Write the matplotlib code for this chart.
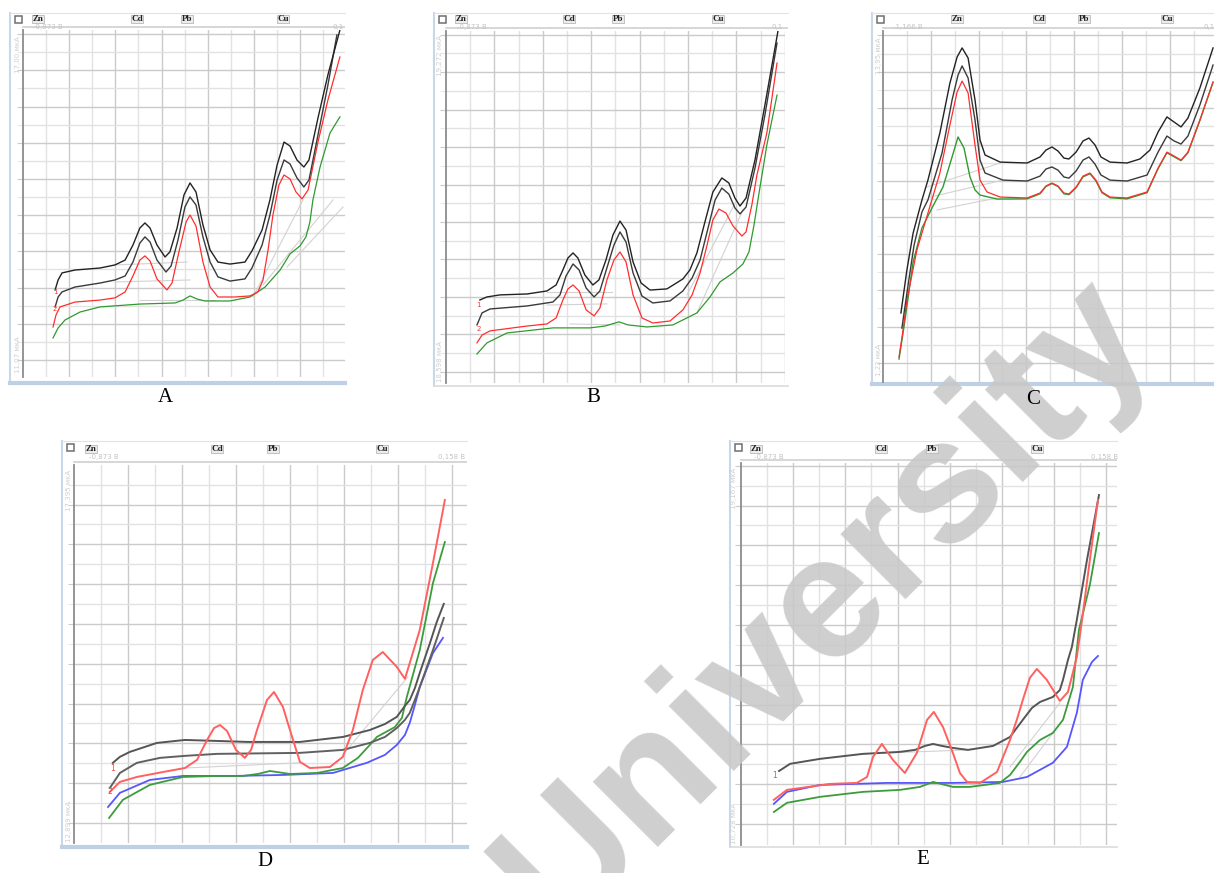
import matplotlib.pyplot as plt
from matplotlib.patches import Rectangle

# all curves in grid divisions
# (x: potential divisions from the left axis, y: current divisions)

# ---------- A ----------
a_k1_x = [1.39, 1.52, 1.69, 2.25, 3.33, 3.98, 4.42, 4.76, 5.06, 5.28, 5.50, 5.80, 6.15, 6.36, 6.67, 6.97, 7.23, 7.49,
          7.79, 8.10, 8.44, 8.96, 9.61, 9.91, 10.35, 10.69, 11.00, 11.30, 11.56, 11.86, 12.16, 12.38, 12.77, 13.20, 13.72]
a_k1_y = [3.87, 4.42, 4.81, 4.97, 5.08, 5.25, 5.52, 6.35, 7.29, 7.57, 7.29, 6.35, 5.69, 5.97, 7.29, 9.12, 9.78, 9.28,
          7.46, 6.08, 5.41, 5.30, 5.41, 6.02, 7.18, 8.84, 10.77, 12.04, 11.82, 11.05, 10.66, 11.05, 13.37, 15.75, 18.23]
a_k2_x = [1.39, 1.52, 1.69, 2.25, 3.33, 3.98, 4.42, 4.76, 5.06, 5.28, 5.50, 5.80, 6.19, 6.41, 6.71, 7.01, 7.23, 7.49,
          7.79, 8.10, 8.44, 8.96, 9.61, 9.91, 10.35, 10.69, 11.00, 11.30, 11.56, 11.86, 12.16, 12.38, 12.77, 13.20, 13.59]
a_k2_y = [2.93, 3.48, 3.76, 4.03, 4.25, 4.42, 4.64, 5.41, 6.46, 6.80, 6.52, 5.52, 4.86, 5.19, 6.63, 8.45, 9.01, 8.56,
          6.80, 5.41, 4.59, 4.36, 4.48, 5.08, 6.35, 8.01, 9.94, 11.05, 10.83, 10.06, 9.56, 9.94, 12.43, 15.19, 17.96]
a_r_x = [1.30, 1.43, 1.60, 2.25, 3.33, 3.98, 4.42, 4.76, 5.06, 5.28, 5.50, 5.80, 6.23, 6.45, 6.75, 7.06, 7.23, 7.49,
         7.79, 8.10, 8.44, 9.18, 9.83, 10.17, 10.39, 10.61, 10.82, 11.08, 11.30, 11.56, 11.82, 12.08, 12.34, 12.77,
         13.20, 13.72]
a_r_y = [1.82, 2.49, 2.93, 3.20, 3.31, 3.43, 3.76, 4.64, 5.52, 5.75, 5.47, 4.48, 3.87, 4.25, 5.97, 7.62, 8.01, 7.40,
         5.41, 4.03, 3.48, 3.48, 3.54, 3.76, 4.42, 6.08, 8.01, 9.67, 10.22, 10.00, 9.28, 8.90, 9.39, 12.04, 14.36, 16.74]
a_g_x = [1.30, 1.52, 1.82, 2.47, 3.33, 5.06, 6.58, 6.93, 7.23, 7.53, 7.88, 8.96, 9.83, 10.48, 11.13, 11.56, 11.99,
         12.25, 12.42, 12.55, 12.86, 13.29, 13.72]
a_g_y = [1.22, 1.77, 2.21, 2.65, 2.93, 3.09, 3.15, 3.31, 3.54, 3.37, 3.26, 3.26, 3.48, 4.03, 4.97, 5.86, 6.30, 6.80,
         7.62, 8.84, 10.66, 12.54, 13.43]
a_base_x = [[3.98, 7.10], [3.98, 7.23], [5.06, 8.31], [9.96, 12.12], [10.39, 13.42], [11.43, 13.85]]
a_base_y = [[5.25, 5.41], [4.31, 4.42], [3.31, 3.31], [3.48, 8.84], [4.14, 8.84], [5.14, 8.45]]

# ---------- B ----------
b_k1_x = [1.40, 1.69, 2.23, 3.35, 4.17, 4.55, 4.83, 5.04, 5.25, 5.45, 5.74, 6.07, 6.32, 6.61, 6.90, 7.19, 7.44, 7.73,
          8.06, 8.43, 9.13, 9.79, 10.08, 10.37, 10.70, 11.03, 11.40, 11.69, 11.94, 12.15, 12.40, 12.77, 13.18, 13.72]
b_k1_y = [3.84, 4.00, 4.11, 4.16, 4.32, 4.64, 5.44, 6.08, 6.35, 6.08, 5.17, 4.64, 4.91, 5.97, 7.31, 8.05, 7.57, 5.87,
          4.75, 4.37, 4.43, 4.96, 5.44, 6.35, 8.00, 9.60, 10.35, 10.08, 9.28, 8.85, 9.28, 11.31, 14.24, 18.19]
b_k2_x = [1.28, 1.49, 1.82, 3.35, 4.42, 4.71, 4.96, 5.25, 5.50, 5.79, 6.12, 6.36, 6.65, 6.94, 7.19, 7.44, 7.73, 8.10,
          8.55, 9.26, 9.79, 10.17, 10.50, 10.83, 11.12, 11.40, 11.69, 11.94, 12.15, 12.40, 12.77, 13.18, 13.68]
b_k2_y = [2.51, 3.15, 3.36, 3.52, 3.73, 4.11, 5.12, 5.76, 5.44, 4.48, 4.00, 4.32, 5.55, 6.77, 7.47, 6.93, 5.28, 4.05,
          3.68, 3.79, 4.32, 5.01, 5.97, 7.68, 9.17, 9.81, 9.49, 8.75, 8.43, 8.80, 10.88, 13.71, 17.55]
b_r_x = [1.28, 1.49, 1.82, 3.35, 4.17, 4.55, 4.83, 5.04, 5.25, 5.50, 5.79, 6.12, 6.36, 6.65, 6.94, 7.19, 7.44, 7.73,
         8.10, 8.55, 9.26, 9.79, 10.17, 10.50, 10.79, 11.03, 11.28, 11.57, 11.86, 12.23, 12.40, 12.64, 12.85, 13.26,
         13.68]
b_r_y = [1.55, 1.97, 2.19, 2.45, 2.56, 2.88, 3.84, 4.43, 4.64, 4.32, 3.31, 2.99, 3.41, 4.91, 5.97, 6.40, 5.87, 4.11,
         2.88, 2.61, 2.72, 3.31, 4.11, 5.28, 6.77, 8.11, 8.69, 8.48, 7.79, 7.25, 7.47, 8.91, 10.51, 12.75, 16.48]
b_g_x = [1.28, 1.69, 2.52, 4.42, 5.95, 6.57, 6.86, 7.15, 7.52, 8.31, 9.38, 10.37, 10.91, 11.32, 11.86, 12.27, 12.52,
         12.73, 12.89, 13.26, 13.68]
b_g_y = [0.96, 1.55, 2.08, 2.35, 2.35, 2.45, 2.56, 2.67, 2.51, 2.40, 2.51, 3.15, 4.00, 4.80, 5.28, 5.76, 6.40, 7.84,
         9.17, 12.11, 14.77]
b_base_x = [[4.17, 6.86], [4.17, 6.65], [5.12, 7.19], [9.96, 12.02], [10.37, 12.27]]
b_base_y = [[4.27, 4.27], [3.57, 3.63], [2.56, 2.51], [4.11, 9.17], [3.15, 8.64]]

# ---------- C ----------
c_k1_x = [0.75, 1.00, 1.26, 1.63, 1.88, 2.38, 2.80, 3.10, 3.31, 3.56, 3.85, 4.06, 4.27, 4.90, 6.03, 6.57, 6.82, 7.07,
          7.32, 7.57, 7.78, 8.08, 8.37, 8.62, 8.87, 9.12, 9.50, 10.21, 10.75, 11.17, 11.51, 11.88, 12.18, 12.47, 12.76,
          13.26, 13.81]
c_k1_y = [2.75, 5.11, 7.14, 8.96, 10.05, 12.64, 15.38, 16.81, 17.31, 16.76, 14.45, 12.25, 11.43, 11.04, 10.99, 11.32,
          11.70, 11.87, 11.65, 11.26, 11.21, 11.59, 12.20, 12.36, 11.98, 11.32, 11.04, 10.99, 11.21, 11.70, 12.69, 13.52,
          13.24, 12.97, 13.46, 15.11, 17.31]
c_k2_x = [0.79, 1.05, 1.30, 1.63, 1.88, 2.47, 2.89, 3.14, 3.31, 3.56, 3.85, 4.06, 4.27, 5.02, 6.03, 6.57, 6.82, 7.07,
          7.32, 7.57, 7.78, 8.08, 8.37, 8.62, 8.87, 9.12, 9.50, 10.21, 11.05, 11.51, 11.88, 12.18, 12.47, 12.76, 13.26,
          13.81]
c_k2_y = [1.92, 4.29, 6.48, 8.30, 8.96, 11.54, 14.45, 15.82, 16.32, 15.66, 13.35, 11.15, 10.44, 10.05, 10.00, 10.27,
          10.66, 10.77, 10.60, 10.22, 10.16, 10.55, 11.15, 11.32, 10.93, 10.33, 10.05, 10.00, 10.33, 11.59, 12.47, 12.20,
          12.03, 12.47, 14.18, 16.37]
c_r_x = [0.67, 0.84, 1.00, 1.42, 1.88, 2.38, 2.80, 3.10, 3.31, 3.56, 3.85, 4.06, 4.35, 4.90, 6.03, 6.57, 6.82, 7.07,
         7.32, 7.57, 7.78, 8.08, 8.37, 8.66, 8.91, 9.16, 9.50, 10.21, 11.05, 11.51, 11.88, 12.18, 12.47, 12.76, 13.26,
         13.81]
c_r_y = [0.33, 1.81, 3.46, 6.21, 8.24, 10.44, 13.08, 14.89, 15.49, 14.84, 11.98, 10.05, 9.40, 9.12, 9.07, 9.34, 9.73,
         9.89, 9.73, 9.34, 9.29, 9.67, 10.27, 10.44, 10.05, 9.40, 9.12, 9.07, 9.40, 10.71, 11.59, 11.37, 11.15, 11.59,
         13.35, 15.44]
c_g_x = [0.67, 0.92, 1.26, 1.63, 2.05, 2.51, 2.89, 3.14, 3.39, 3.64, 3.85, 4.06, 4.77, 6.03, 6.57, 6.82, 7.07, 7.32,
         7.57, 7.78, 8.08, 8.37, 8.66, 8.91, 9.16, 9.50, 10.21, 11.05, 11.51, 11.88, 12.18, 12.47, 12.76, 13.26, 13.81]
c_g_y = [0.22, 2.36, 5.55, 7.42, 8.52, 9.67, 11.32, 12.42, 11.81, 10.22, 9.51, 9.23, 9.01, 9.02, 9.30, 9.70, 9.86,
         9.70, 9.30, 9.25, 9.63, 10.23, 10.40, 10.00, 9.36, 9.08, 9.02, 9.36, 10.68, 11.55, 11.33, 11.12, 11.55, 13.33,
         15.42]
c_base_x = [[1.84, 5.02], [1.97, 5.02], [2.26, 4.77]]
c_base_y = [[9.67, 11.04], [9.12, 10.05], [8.41, 9.07]]

# ---------- D ----------
d_k1_x = [1.44, 1.70, 2.07, 3.07, 4.11, 5.30, 6.44, 8.37, 9.96, 10.96, 11.52, 11.96, 12.26, 12.44, 12.63, 12.81,
          13.19, 13.44, 13.70]
d_k1_y = [3.02, 3.32, 3.57, 4.02, 4.17, 4.12, 4.07, 4.07, 4.32, 4.67, 4.97, 5.33, 5.88, 6.18, 6.78, 7.54, 9.05,
          10.10, 11.01]
d_k2_x = [1.33, 1.70, 2.33, 3.19, 4.11, 5.30, 8.37, 9.96, 10.96, 11.52, 11.96, 12.26, 12.44, 12.63, 12.81, 13.30, 13.70]
d_k2_y = [1.76, 2.51, 3.02, 3.27, 3.37, 3.47, 3.52, 3.67, 4.02, 4.32, 4.77, 5.18, 5.53, 6.18, 6.83, 8.69, 10.30]
d_r_x = [1.33, 1.70, 2.33, 3.30, 4.11, 4.56, 4.93, 5.19, 5.41, 5.67, 6.00, 6.33, 6.56, 6.78, 7.15, 7.41, 7.74, 8.00,
         8.37, 8.74, 9.48, 9.96, 10.33, 10.70, 11.07, 11.44, 11.96, 12.26, 12.44, 12.81, 13.30, 13.74]
d_r_y = [1.56, 2.06, 2.31, 2.56, 2.76, 3.17, 4.17, 4.77, 4.92, 4.62, 3.67, 3.27, 3.67, 4.67, 6.18, 6.58, 5.83, 4.67,
         3.07, 2.76, 2.81, 3.32, 4.67, 6.68, 8.19, 8.59, 7.84, 7.24, 8.04, 9.70, 13.07, 16.23]
d_g_x = [1.30, 1.81, 2.81, 4.04, 5.30, 6.26, 6.81, 7.26, 8.00, 9.00, 9.96, 10.52, 10.96, 11.22, 11.89, 12.15, 12.33,
         12.81, 13.30, 13.74]
d_g_y = [0.25, 1.16, 1.91, 2.31, 2.36, 2.36, 2.46, 2.61, 2.46, 2.51, 2.76, 3.27, 3.92, 4.32, 4.82, 5.28, 6.33, 8.69,
         12.06, 14.12]
d_b_x = [1.26, 1.70, 2.81, 4.04, 5.89, 7.74, 9.59, 10.85, 11.52, 11.96, 12.26, 12.44, 12.63, 12.81, 13.30, 13.67]
d_b_y = [0.80, 1.51, 2.16, 2.36, 2.36, 2.41, 2.51, 3.02, 3.42, 3.92, 4.42, 5.03, 5.93, 6.83, 8.54, 9.30]
d_base_x = [[4.11, 8.37], [9.96, 12.37]]
d_base_y = [[2.76, 3.02], [3.42, 7.34]]

# ---------- E ----------
e_k_x = [1.46, 1.88, 3.03, 4.67, 6.09, 6.67, 7.05, 7.36, 7.70, 8.12, 8.70, 9.66, 10.31, 10.80, 11.15, 11.46, 11.95,
         12.22, 12.34, 12.53, 12.68, 12.87, 13.26, 13.72]
e_k_y = [2.66, 3.02, 3.27, 3.52, 3.62, 3.72, 3.92, 4.02, 3.92, 3.82, 3.72, 3.92, 4.37, 5.23, 5.83, 6.13, 6.38, 6.73,
         7.24, 8.24, 8.89, 10.25, 13.27, 16.53]
e_r_x = [1.26, 1.76, 3.41, 4.44, 4.83, 5.06, 5.40, 5.82, 6.28, 6.74, 7.13, 7.39, 7.74, 8.12, 8.39, 8.66, 9.16, 9.81,
         10.31, 10.57, 10.80, 11.07, 11.34, 11.72, 12.22, 12.53, 12.87, 13.07, 13.37, 13.68]
e_r_y = [1.21, 1.71, 2.01, 2.06, 2.36, 3.37, 4.02, 3.22, 2.56, 3.57, 5.23, 5.63, 4.87, 3.57, 2.56, 2.11, 2.06, 2.61,
         4.22, 5.23, 6.23, 7.34, 7.79, 7.24, 6.18, 6.63, 8.39, 10.25, 13.27, 16.28]
e_b_x = [1.26, 1.76, 3.03, 5.59, 8.12, 10.04, 10.96, 11.95, 12.49, 12.87, 13.10, 13.45, 13.68]
e_b_y = [1.01, 1.61, 1.96, 2.06, 2.06, 2.11, 2.36, 3.07, 3.87, 5.58, 7.24, 8.14, 8.44]
e_g_x = [1.26, 1.76, 3.03, 4.67, 6.09, 6.86, 7.36, 7.82, 8.12, 8.77, 9.92, 10.31, 10.69, 10.96, 11.46, 11.95, 12.34,
         12.72, 12.95, 13.37, 13.72]
e_g_y = [0.60, 1.06, 1.36, 1.61, 1.71, 1.86, 2.11, 1.96, 1.86, 1.86, 2.06, 2.46, 3.12, 3.62, 4.22, 4.57, 5.23, 6.88,
         9.75, 12.01, 14.62]
e_base_x = [[4.67, 8.70], [10.31, 12.22], [10.69, 11.95]]
e_base_y = [[3.52, 3.72], [2.86, 6.08], [2.36, 4.57]]

elements = ['Zn', 'Cd', 'Pb', 'Cu']

W, H = 1214, 873
fig = plt.figure(figsize=(W / 100, H / 100), dpi=100)


def fbox(x0, y0, x1, y1):
    return [x0 / W, 1 - y1 / H, (x1 - x0) / W, (y1 - y0) / H]


def panel(frame, box, xlim, ylim, elem_x, elem_y, v_left, v_right, v_xy, y_top, y_bot, y_lab_x, letter, letter_xy,
          blue):
    x0, y0, x1, y1 = frame
    fr = fig.add_axes(fbox(*frame))
    fr.set_xticks([])
    fr.set_yticks([])
    fr.spines['right'].set_visible(False)
    fr.spines['top'].set_color('#e2e2e2')
    fr.spines['left'].set_color('#c9d7e8')
    fr.spines['left'].set_linewidth(1.5)
    fr.spines['bottom'].set_color('#bfd0e6' if blue else '#dcdcdc')
    fr.spines['bottom'].set_linewidth(3 if blue else 1.2)
    fr.axhline(1 - (box[1] - 3 - y0) / (y1 - y0), xmin=(box[0] - x0) / (x1 - x0), color='#cfcfcf', lw=1.2)

    # small toolbar icon
    fig.patches.append(Rectangle(((x0 + 5) / W, 1 - (y0 + 10) / H), 7 / W, 7 / H, transform=fig.transFigure,
                                 fill=False, ec='#6f6f6f', lw=1.1))
    for name, ex in zip(elements, elem_x):
        fig.text(ex / W, 1 - elem_y / H, name, fontsize=6.5, fontweight='bold', family='Liberation Serif',
                 ha='center', va='center', color='#222222', zorder=12,
                 bbox=dict(boxstyle='square,pad=0.05', fc='#ececec', ec='#b9b9b9', lw=0.6))
    fig.text(v_xy[0] / W, 1 - v_xy[2] / H, v_left, fontsize=5, color='#c4c4c4', ha='center', va='center')
    fig.text(v_xy[1] / W, 1 - v_xy[2] / H, v_right, fontsize=5, color='#c4c4c4', ha='center', va='center')
    fig.text(y_lab_x / W, 1 - (box[1] + 25) / H, y_top, fontsize=5, color='#cfcfcf', rotation=90,
             ha='center', va='center')
    fig.text(y_lab_x / W, 1 - (box[3] - 22) / H, y_bot, fontsize=5, color='#cfcfcf', rotation=90,
             ha='center', va='center')
    fig.text(letter_xy[0] / W, 1 - letter_xy[1] / H, letter, fontsize=15, family='Liberation Serif',
             ha='center', va='center', zorder=12)

    ax = fig.add_axes(fbox(*box))
    ax.set_facecolor('none')
    ax.set_xlim(*xlim)
    ax.set_ylim(*ylim)
    ax.set_xticks(range(2, int(xlim[1]) + 1, 2))
    ax.set_xticks(range(1, int(xlim[1]) + 1, 2), minor=True)
    ax.set_yticks(range(0, int(ylim[1]) + 1, 2))
    ax.set_yticks(range(1, int(ylim[1]) + 1, 2), minor=True)
    ax.grid(which='major', color='#cbcbcb', lw=1.0)
    ax.grid(which='minor', color='#e2e2e2', lw=1.0)
    ax.tick_params(which='both', labelbottom=False, labelleft=False, bottom=False)
    ax.tick_params(axis='y', which='major', direction='out', length=4.5, color='#cbcbcb')
    ax.tick_params(axis='y', which='minor', direction='out', length=4.5, color='#e2e2e2')
    for s in ['top', 'right', 'bottom']:
        ax.spines[s].set_visible(False)
    ax.spines['left'].set_color('#8c8c8c')
    ax.spines['left'].set_linewidth(1.3)
    return ax


def baselines(ax, bx, by):
    for xs, ys in zip(bx, by):
        ax.plot(xs, ys, color='#d2d2d2', lw=0.8)


# ---- A ----
ax = panel((10, 13, 345, 383), (23, 30, 345, 377), (0, 13.94), (-0.94, 18.23), [38, 137, 187, 283], 19,
           '-0,873 В', '0,1', (48, 338, 27), '17,00 мкА', '11,07 мкА', 18, 'A', (165, 398), True)
baselines(ax, a_base_x, a_base_y)
ax.plot(a_g_x, a_g_y, color='#2f9a2f', lw=0.9)
ax.plot(a_r_x, a_r_y, color='#ff2e2e', lw=0.9)
ax.plot(a_k2_x, a_k2_y, color='#3a3a3a', lw=1.0)
ax.plot(a_k1_x, a_k1_y, color='#222222', lw=1.0)
ax.text(1.39, 3.75, '1', color='#ff3030', fontsize=5, ha='center', va='center')
ax.text(1.39, 2.80, '2', color='#ff3030', fontsize=5, ha='center', va='center')

# ---- B ----
ax = panel((434, 13, 788, 386), (446, 31, 785, 383), (0, 14.01), (-0.59, 18.19), [461, 569, 618, 718], 19,
           '-0,873 В', '0,1', (472, 777, 27), '19,272 мкА', '18,598 мкА', 440, 'B', (593, 398), False)
baselines(ax, b_base_x, b_base_y)
ax.plot(b_g_x, b_g_y, color='#2f9a2f', lw=0.9)
ax.plot(b_r_x, b_r_y, color='#ff2e2e', lw=0.9)
ax.plot(b_k2_x, b_k2_y, color='#3a3a3a', lw=1.0)
ax.plot(b_k1_x, b_k1_y, color='#222222', lw=1.0)
ax.text(1.36, 3.55, '1', color='#ff3030', fontsize=5, ha='center', va='center')
ax.text(1.36, 2.30, '2', color='#ff3030', fontsize=5, ha='center', va='center')

# ---- C ----
ax = panel((872, 13, 1214, 384), (883, 31, 1214, 382), (0, 13.85), (-1.04, 18.24), [957, 1039, 1084, 1167], 19,
           '-1,166 В', '0,1', (908, 1209, 27), '13,95 мкА', '1,22 мкА', 879, 'C', (1033, 400), True)
baselines(ax, c_base_x, c_base_y)
ax.plot(c_g_x, c_g_y, color='#2f9a2f', lw=1.0)
ax.plot(c_r_x, c_r_y, color='#ff2e2e', lw=0.9)
ax.plot(c_k2_x, c_k2_y, color='#3a3a3a', lw=1.0)
ax.plot(c_k1_x, c_k1_y, color='#222222', lw=1.0)

# ---- D ----
ax = panel((62, 441, 467, 847), (74, 465, 467, 843), (0, 14.56), (-1.01, 17.99), [91, 217, 273, 382], 449,
           '-0,873 В', '0,158 В', (104, 452, 457), '17,395 мкА', '12,899 мкА', 69, 'D', (265, 862), True)
baselines(ax, d_base_x, d_base_y)
ax.plot(d_b_x, d_b_y, color='#5656ff', lw=1.3)
ax.plot(d_g_x, d_g_y, color='#3c9c3c', lw=1.3)
ax.plot(d_k2_x, d_k2_y, color='#606060', lw=1.4)
ax.plot(d_k1_x, d_k1_y, color='#555555', lw=1.4)
ax.plot(d_r_x, d_r_y, color='#ff6060', lw=1.4)
ax.text(1.44, 2.75, '1', color='#ff4040', fontsize=5.5, ha='center', va='center')
ax.text(1.33, 1.60, '2', color='#ff4040', fontsize=5.5, ha='center', va='center')

# ---- E ----
ax = panel((730, 441, 1117, 847), (741, 463, 1117, 845), (0, 14.41), (-1.06, 18.14), [756, 881, 932, 1037], 449,
           '-0,873 В', '0,158 В', (769, 1105, 457), '19,167 мкА', '10,728 мкА', 734, 'E', (923, 860), False)
baselines(ax, e_base_x, e_base_y)
ax.plot(e_b_x, e_b_y, color='#5656ff', lw=1.3)
ax.plot(e_g_x, e_g_y, color='#3c9c3c', lw=1.3)
ax.plot(e_k_x, e_k_y, color='#555555', lw=1.4)
ax.plot(e_r_x, e_r_y, color='#ff6060', lw=1.4)
ax.text(1.30, 2.45, '1', color='#ff4040', fontsize=5.5, ha='center', va='center')

# watermark
fig.text(825 / W, 1 - 605 / H, 'University', rotation=45, fontsize=126, family='Liberation Sans',
         fontweight='bold', color='#c8c8c8', alpha=0.88, ha='center', va='center', zorder=10)

fig.savefig('out.png', dpi=100)
